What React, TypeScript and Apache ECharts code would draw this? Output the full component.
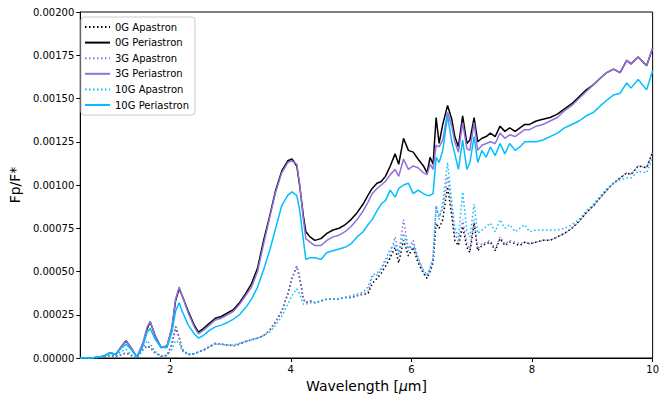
import React, { useEffect, useRef } from "react";
import * as echarts from "echarts";

const wavelength = [
  0.51, 0.7, 0.9, 1.0, 1.1, 1.2, 1.27, 1.35, 1.45, 1.55, 1.62, 1.67, 1.75, 1.85, 1.95, 2.03, 2.09, 2.15, 2.2, 2.3,
  2.4, 2.47, 2.55, 2.65, 2.75, 2.85, 2.95, 3.05, 3.15, 3.25, 3.35, 3.45, 3.55, 3.65, 3.75, 3.85, 3.95, 4.02, 4.1, 4.15,
  4.21, 4.25, 4.32, 4.4, 4.5, 4.6, 4.7, 4.8, 4.9, 5.0, 5.1, 5.2, 5.28, 5.35, 5.43, 5.5, 5.57, 5.65, 5.73, 5.79,
  5.87, 5.95, 6.03, 6.11, 6.2, 6.26, 6.31, 6.36, 6.41, 6.46, 6.52, 6.6, 6.67, 6.72, 6.78, 6.85, 6.92, 6.97, 7.04, 7.1,
  7.17, 7.24, 7.31, 7.39, 7.47, 7.55, 7.63, 7.72, 7.8, 7.88, 7.96, 8.07, 8.18, 8.3, 8.42, 8.54, 8.66, 8.78, 8.9, 9.02,
  9.14, 9.24, 9.35, 9.46, 9.57, 9.64, 9.76, 9.9, 10.0,
];

const apastron0G = [
  0, 0, 0.5e-5, 1.5e-5, 1e-5, 2e-5, 3e-5, 1.5e-5, 0, 5e-5, 7e-5, 6e-5, 3e-5, 1e-5, 1.5e-5, 8e-5, 18e-5, 12e-5, 5e-5, 2e-5,
  2.5e-5, 3.5e-5, 4.5e-5, 6.5e-5, 8.5e-5, 8e-5, 7.5e-5, 7e-5, 8e-5, 9.5e-5, 10.5e-5, 11.5e-5, 13e-5, 16e-5, 21e-5, 27e-5, 37e-5, 46e-5, 53e-5, 46e-5,
  34e-5, 32e-5, 33e-5, 32e-5, 33e-5, 34e-5, 34e-5, 34e-5, 35e-5, 35e-5, 36e-5, 37e-5, 37e-5, 43e-5, 46e-5, 49e-5, 53e-5, 58e-5, 64e-5, 55e-5,
  68e-5, 59e-5, 64e-5, 55e-5, 49e-5, 46e-5, 50e-5, 55e-5, 78e-5, 75e-5, 80e-5, 99e-5, 82e-5, 68e-5, 65e-5, 76e-5, 64e-5, 61e-5, 78e-5, 62e-5,
  65e-5, 66e-5, 67e-5, 62e-5, 69e-5, 65e-5, 67e-5, 66e-5, 65e-5, 67e-5, 66e-5, 67e-5, 68e-5, 68e-5, 70e-5, 72e-5, 75e-5, 79e-5, 84e-5, 88e-5,
  93e-5, 97e-5, 101e-5, 104e-5, 107e-5, 106e-5, 111e-5, 110e-5, 119e-5,
];

const periastron0G = [
  0, 0, 1e-5, 3e-5, 2e-5, 7e-5, 10e-5, 6e-5, 0.5e-5, 8e-5, 17e-5, 21e-5, 13e-5, 6e-5, 7e-5, 17e-5, 33e-5, 40e-5, 36e-5, 27e-5,
  19e-5, 15e-5, 17e-5, 20e-5, 23e-5, 24e-5, 26e-5, 28e-5, 32e-5, 37e-5, 43e-5, 52e-5, 68e-5, 82e-5, 97e-5, 108e-5, 114e-5, 115e-5, 111e-5, 99e-5,
  82e-5, 73e-5, 70e-5, 68e-5, 69e-5, 72e-5, 74e-5, 75e-5, 77e-5, 80e-5, 84e-5, 89e-5, 94e-5, 98e-5, 101e-5, 102e-5, 105e-5, 111e-5, 118e-5, 112e-5,
  127e-5, 120e-5, 119e-5, 115e-5, 111e-5, 107e-5, 116e-5, 112e-5, 139e-5, 124e-5, 135e-5, 146e-5, 138e-5, 128e-5, 122e-5, 140e-5, 124e-5, 126e-5, 139e-5, 125e-5,
  127e-5, 128e-5, 130e-5, 128e-5, 134e-5, 131e-5, 133e-5, 131e-5, 133e-5, 135e-5, 135e-5, 137e-5, 138e-5, 139e-5, 141e-5, 144e-5, 147e-5, 151e-5, 155e-5, 158e-5,
  162e-5, 165e-5, 167e-5, 165e-5, 172e-5, 170e-5, 174e-5, 169e-5, 179e-5,
];

const apastron3G = [
  0, 0, 0.5e-5, 1.5e-5, 1e-5, 2e-5, 3e-5, 1.5e-5, 0, 5e-5, 7e-5, 6e-5, 3e-5, 1e-5, 1.5e-5, 8e-5, 18e-5, 12e-5, 5e-5, 2e-5,
  2.5e-5, 3.5e-5, 4.5e-5, 6.5e-5, 8.5e-5, 8e-5, 7.5e-5, 7e-5, 8e-5, 9.5e-5, 10.5e-5, 11.5e-5, 13e-5, 16e-5, 21e-5, 27e-5, 37e-5, 46e-5, 53e-5, 46e-5,
  34e-5, 32e-5, 33e-5, 32e-5, 33e-5, 34e-5, 34e-5, 34e-5, 35e-5, 35e-5, 36e-5, 37e-5, 38e-5, 47e-5, 48e-5, 51e-5, 56e-5, 60e-5, 70e-5, 60e-5,
  80e-5, 63e-5, 68e-5, 58e-5, 50e-5, 47e-5, 52e-5, 57e-5, 88e-5, 82e-5, 86e-5, 105e-5, 88e-5, 72e-5, 67e-5, 80e-5, 66e-5, 63e-5, 80e-5, 63e-5,
  66e-5, 67e-5, 68e-5, 63e-5, 70e-5, 66e-5, 68e-5, 67e-5, 66e-5, 67e-5, 66e-5, 67e-5, 68e-5, 68e-5, 70e-5, 72e-5, 75e-5, 79e-5, 84e-5, 88e-5,
  93e-5, 97e-5, 101e-5, 104e-5, 107e-5, 106e-5, 111e-5, 110e-5, 119e-5,
];

const periastron3G = [
  0, 0, 1e-5, 3e-5, 2e-5, 7e-5, 10e-5, 6e-5, 0.5e-5, 9e-5, 18e-5, 21e-5, 13e-5, 6e-5, 7e-5, 18e-5, 34e-5, 41e-5, 36e-5, 26e-5,
  18e-5, 14e-5, 16e-5, 19e-5, 22e-5, 23e-5, 25e-5, 27e-5, 31e-5, 36e-5, 41e-5, 50e-5, 66e-5, 81e-5, 96e-5, 107e-5, 113e-5, 114e-5, 112e-5, 100e-5,
  80e-5, 69e-5, 67e-5, 65e-5, 65e-5, 68e-5, 70e-5, 71e-5, 73e-5, 76e-5, 80e-5, 85e-5, 90e-5, 95e-5, 98e-5, 100e-5, 102e-5, 106e-5, 109e-5, 105e-5,
  115e-5, 109e-5, 111e-5, 110e-5, 107e-5, 106e-5, 112e-5, 109e-5, 123e-5, 122e-5, 126e-5, 142e-5, 134e-5, 125e-5, 119e-5, 136e-5, 121e-5, 120e-5, 136e-5, 120e-5,
  123e-5, 124e-5, 125e-5, 124e-5, 130e-5, 127e-5, 129e-5, 128e-5, 130e-5, 132e-5, 132e-5, 134e-5, 135e-5, 137e-5, 139e-5, 143e-5, 146e-5, 150e-5, 154e-5, 158e-5,
  162e-5, 165e-5, 167e-5, 165e-5, 172e-5, 170e-5, 174e-5, 169e-5, 179e-5,
];

const apastron10G = [
  0, 0, 0.5e-5, 2e-5, 1.5e-5, 4e-5, 5e-5, 2e-5, 0, 6e-5, 10e-5, 8e-5, 4e-5, 1e-5, 1.5e-5, 5e-5, 10e-5, 9e-5, 4e-5, 2e-5,
  2.5e-5, 3.5e-5, 4.5e-5, 6.5e-5, 8e-5, 8e-5, 7.5e-5, 7.5e-5, 8.5e-5, 9.5e-5, 10.5e-5, 11.5e-5, 13e-5, 15e-5, 19e-5, 24e-5, 31e-5, 36e-5, 40e-5, 37e-5,
  31e-5, 31e-5, 32e-5, 32e-5, 33e-5, 34e-5, 34e-5, 34e-5, 35e-5, 36e-5, 37e-5, 38e-5, 41e-5, 48e-5, 49e-5, 52e-5, 57e-5, 63e-5, 66e-5, 60e-5,
  72e-5, 62e-5, 66e-5, 57e-5, 51e-5, 48e-5, 52e-5, 58e-5, 88e-5, 80e-5, 90e-5, 113e-5, 90e-5, 75e-5, 70e-5, 96e-5, 74e-5, 70e-5, 89e-5, 72e-5,
  74e-5, 76e-5, 78e-5, 73e-5, 80e-5, 75e-5, 77e-5, 73e-5, 75e-5, 77e-5, 73e-5, 74e-5, 74e-5, 74e-5, 74e-5, 75e-5, 77e-5, 80e-5, 85e-5, 89e-5,
  94e-5, 98e-5, 101e-5, 103e-5, 104e-5, 104e-5, 108e-5, 107e-5, 116e-5,
];

const periastron10G = [
  0, 0, 1e-5, 3e-5, 2e-5, 6e-5, 8e-5, 5e-5, 0.5e-5, 7e-5, 15e-5, 17e-5, 11e-5, 6e-5, 6e-5, 15e-5, 27e-5, 32e-5, 27e-5, 19e-5,
  14e-5, 11.5e-5, 13e-5, 16e-5, 18e-5, 19e-5, 20.5e-5, 22.5e-5, 25e-5, 29e-5, 34e-5, 41e-5, 51e-5, 62e-5, 75e-5, 88e-5, 94e-5, 96e-5, 94e-5, 85e-5,
  68e-5, 57e-5, 58e-5, 58e-5, 57e-5, 61e-5, 62e-5, 63e-5, 64e-5, 66e-5, 70e-5, 73e-5, 77e-5, 80e-5, 85e-5, 89e-5, 91e-5, 97e-5, 93e-5, 98e-5,
  100e-5, 101e-5, 95e-5, 97e-5, 95e-5, 94e-5, 94e-5, 95e-5, 116e-5, 113e-5, 120e-5, 140e-5, 125e-5, 118e-5, 109e-5, 126e-5, 109e-5, 113e-5, 128e-5, 113e-5,
  120e-5, 116e-5, 122e-5, 117e-5, 124e-5, 118e-5, 124e-5, 120e-5, 122e-5, 125e-5, 125e-5, 125e-5, 126e-5, 128e-5, 130e-5, 133e-5, 135e-5, 137e-5, 140e-5, 142e-5,
  146e-5, 149e-5, 152e-5, 153e-5, 159e-5, 156e-5, 161e-5, 155e-5, 166e-5,
];

const xTicks = [2, 4, 6, 8, 10];

const seriesDefs = [
  { name: "0G Apastron", values: apastron0G, color: "#000000", dotted: true },
  { name: "0G Periastron", values: periastron0G, color: "#000000", dotted: false },
  { name: "3G Apastron", values: apastron3G, color: "#9370DB", dotted: true },
  { name: "3G Periastron", values: periastron3G, color: "#9370DB", dotted: false },
  { name: "10G Apastron", values: apastron10G, color: "#00BFFF", dotted: true },
  { name: "10G Periastron", values: periastron10G, color: "#00BFFF", dotted: false },
];

const FONT = "DejaVu Sans";

export default function App() {
  const ref = useRef<HTMLDivElement>(null);
  useEffect(() => {
    if (!ref.current) return;
    const chart = echarts.init(ref.current, null, { renderer: "svg" });
    chart.setOption({
      animation: false,
      backgroundColor: "#ffffff",
      textStyle: { fontFamily: FONT },
      grid: {
        left: 76,
        right: 4,
        top: 12,
        bottom: 38,
        show: true,
        borderColor: "#000",
        borderWidth: 1,
        containLabel: false,
      },
      legend: {
        orient: "vertical",
        left: 81,
        top: 17,
        padding: [5, 6, 5, 3],
        itemWidth: 25,
        itemHeight: 10,
        itemGap: 5.6,
        backgroundColor: "rgba(255,255,255,0.8)",
        borderColor: "#cccccc",
        borderWidth: 1,
        borderRadius: 3,
        itemStyle: { color: "transparent", borderWidth: 0, opacity: 0 },
        textStyle: { fontFamily: FONT, fontSize: 10, color: "#000", lineHeight: 10 },
        data: seriesDefs.map((s) => s.name),
      },
      xAxis: {
        type: "value",
        min: 0.51,
        max: 10,
        name: "Wavelength [{i|μ}m]",
        nameLocation: "middle",
        nameGap: 21,
        nameTextStyle: {
          fontFamily: FONT,
          fontSize: 14,
          color: "#000",
          rich: { i: { fontFamily: FONT, fontSize: 14, fontStyle: "italic", color: "#000" } },
        },
        splitLine: { show: false },
        axisLine: { show: true, onZero: false, lineStyle: { color: "#000", width: 1 } },
        axisTick: { show: true, inside: false, length: 4, customValues: xTicks, lineStyle: { color: "#000" } },
        axisLabel: {
          customValues: xTicks,
          margin: 6,
          fontFamily: FONT,
          fontSize: 10,
          color: "#000",
          formatter: (v: number) => String(v),
        },
      },
      yAxis: {
        type: "value",
        min: 0,
        max: 0.002,
        interval: 0.00025,
        name: "Fp/F*",
        nameLocation: "middle",
        nameGap: 58,
        nameTextStyle: { fontFamily: FONT, fontSize: 14, color: "#000" },
        splitLine: { show: false },
        axisLine: { show: true, lineStyle: { color: "#000", width: 1 } },
        axisTick: { show: true, inside: false, length: 4, lineStyle: { color: "#000" } },
        axisLabel: {
          margin: 6,
          fontFamily: FONT,
          fontSize: 10,
          color: "#000",
          formatter: (v: number) => v.toFixed(5),
        },
      },
      series: seriesDefs.map((s) => ({
        name: s.name,
        type: "line",
        symbol: "none",
        showSymbol: false,
        clip: true,
        data: wavelength.map((w, i) => [w, s.values[i]]),
        lineStyle: {
          color: s.color,
          width: 1.5,
          type: s.dotted ? [1.5, 2.5] : "solid",
        },
        itemStyle: { color: s.color },
      })),
    });
    return () => chart.dispose();
  }, []);
  return (
    <div
      ref={ref}
      style={{ position: "fixed", left: 0, top: 0, width: 662, height: 398 }}
    />
  );
}
